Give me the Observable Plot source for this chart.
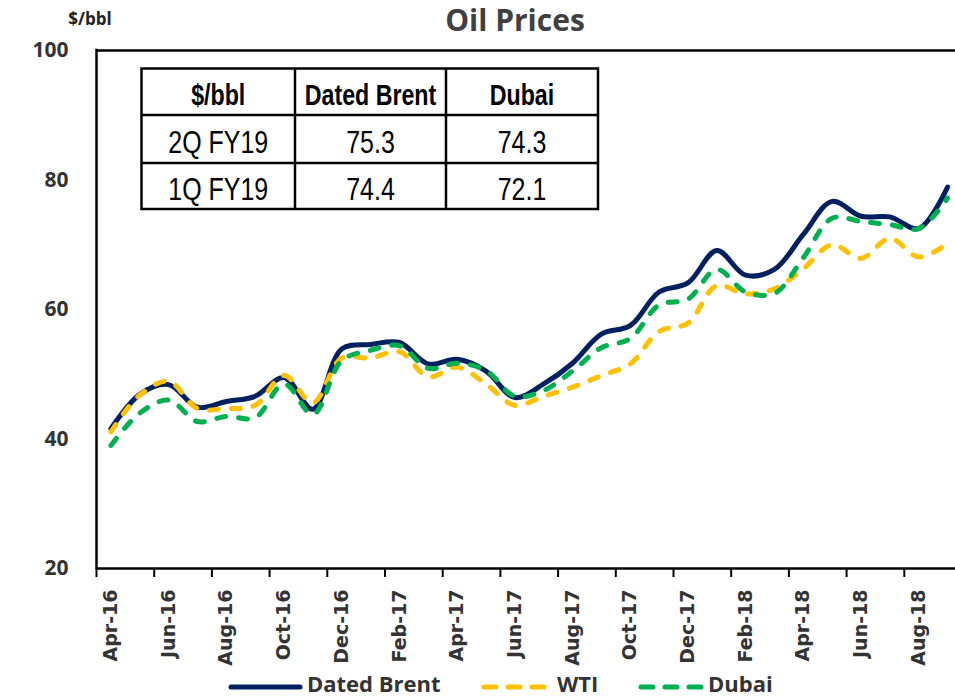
<!DOCTYPE html>
<html>
<head>
<meta charset="utf-8">
<script src="https://cdn.jsdelivr.net/npm/d3@7"></script>
<script src="https://cdn.jsdelivr.net/npm/@observablehq/plot@0.6"></script>
<style>
  body { margin: 0; background: #fff; }
  #chart svg { display: block; }
  #chart svg [aria-label="x-axis tick"] { stroke-width: 2; stroke: #000; }
  #chart svg g[aria-label="x-axis"] line { stroke-width: 2; stroke: #000; }
</style>
</head>
<body>
<div id="chart"></div>
<script>
// ---------- data ----------
const months = ["Apr-16","May-16","Jun-16","Jul-16","Aug-16","Sep-16","Oct-16","Nov-16","Dec-16",
  "Jan-17","Feb-17","Mar-17","Apr-17","May-17","Jun-17","Jul-17","Aug-17","Sep-17","Oct-17","Nov-17","Dec-17",
  "Jan-18","Feb-18","Mar-18","Apr-18","May-18","Jun-18","Jul-18","Aug-18","Sep-18"];
const datedBrent = [41.6,46.9,48.4,44.9,45.8,46.6,49.5,44.6,53.9,54.6,54.9,51.6,52.3,50.5,46.4,48.5,51.7,56.2,57.5,62.7,64.1,69.1,65.3,66.2,71.6,76.7,74.4,74.3,72.5,78.9];
const wti        = [41.1,46.8,48.9,44.7,44.7,45.2,49.8,45.6,52.5,52.5,53.5,49.6,51.1,48.5,45.2,46.6,48.0,49.8,51.6,56.6,57.9,63.7,62.4,63.2,66.3,70.0,67.9,71.0,68.1,70.2];
const dubai      = [39.0,44.0,46.0,42.7,43.5,43.3,48.5,43.8,52.1,53.7,54.4,50.9,51.7,50.6,46.6,47.5,50.5,54.1,55.5,60.7,61.6,66.2,62.7,62.5,68.0,74.1,73.6,73.1,72.5,77.2];
const seriesNames = ["Dated Brent", "WTI", "Dubai"];
const seriesValues = [datedBrent, wti, dubai];
const yTicks = [20, 40, 60, 80, 100];
const chartTitle = "Oil Prices";
const unitLabel = "$/bbl";
const tableHeader = ["$/bbl", "Dated Brent", "Dubai"];
const tableRows = [["2Q FY19", "75.3", "74.3"], ["1Q FY19", "74.4", "72.1"]];

// ---------- build ----------
const colors = {"Dated Brent": "#002060", "WTI": "#FFC000", "Dubai": "#00B050"};
const dashes = {"Dated Brent": null, "WTI": "9,13", "Dubai": "9,13"};
const rows = [];
seriesNames.forEach((s, k) => seriesValues[k].forEach((v, i) => rows.push({series: s, i, month: months[i], value: v})));
const labelIdx = months.map((m, i) => i).filter(i => i % 2 === 0);
const tickPos = labelIdx.map(i => i - 0.5);

const W = 955, H = 699;
const mLeft = 96, mTop = 50, plotBottom = 568;
const step = 28.85;

const lineMarks = seriesNames.map(s => Plot.line(rows, {
  filter: d => d.series === s,
  x: "i", y: "value",
  stroke: colors[s], strokeWidth: 5,
  strokeDasharray: dashes[s] || undefined,
  strokeLinecap: "round", strokeLinejoin: "round",
  curve: "catmull-rom"
}));

const svg = Plot.plot({
  width: W, height: H,
  marginLeft: mLeft, marginTop: mTop, marginBottom: H - plotBottom, marginRight: 0,
  style: {background: "#fff", overflow: "visible"},
  x: {domain: [-0.5, months.length - 0.5], range: [mLeft, mLeft + step * months.length],
      ticks: tickPos, tickSize: 9, tickFormat: () => "", label: null},
  y: {domain: [20, 100], axis: null},
  marks: [
    ...lineMarks,
    Plot.ruleY([100], {stroke: "#000", strokeWidth: 2.5}),
    Plot.ruleY([20], {stroke: "#000", strokeWidth: 2.5}),
    Plot.ruleX([-0.5], {stroke: "#000", strokeWidth: 2.5, strokeLinecap: "square"}),
    Plot.text(yTicks, {x: -0.5, y: d => d, text: d => String(d), textAnchor: "end", dx: -28,
      fontSize: 21, fontWeight: "bold", fontFamily: "Open Sans", fill: "#333"}),
    Plot.text(labelIdx, {x: d => d, y: 20, text: d => months[d], rotate: -90, textAnchor: "end",
      lineAnchor: "middle", dy: 21, fontSize: 19, fontWeight: "bold", fontFamily: "DejaVu Sans", fill: "#333"})
  ]
});
document.getElementById("chart").appendChild(svg);

// ---------- annotations: title, unit, table, legend ----------
const s = d3.select(svg);
s.append("text").attr("x", 515).attr("y", 31).attr("text-anchor", "middle")
  .attr("font-family", "Open Sans").attr("font-weight", "bold").attr("font-size", 30)
  .attr("fill", "#404040").text(chartTitle);
s.append("text").attr("x", 90).attr("y", 25).attr("text-anchor", "middle")
  .attr("font-family", "Open Sans").attr("font-weight", "bold").attr("font-size", 17)
  .attr("fill", "#222").text(unitLabel);

// table
const tx = [141.5, 295, 446, 598], ty = [68.5, 115, 163, 209];
const tg = s.append("g");
tg.append("rect").attr("x", tx[0]).attr("y", ty[0]).attr("width", tx[3] - tx[0]).attr("height", ty[3] - ty[0])
  .attr("fill", "#fff").attr("stroke", "#000").attr("stroke-width", 2.5);
[tx[1], tx[2]].forEach(x => tg.append("line").attr("x1", x).attr("x2", x).attr("y1", ty[0]).attr("y2", ty[3])
  .attr("stroke", "#000").attr("stroke-width", 2.5));
[ty[1], ty[2]].forEach(y => tg.append("line").attr("x1", tx[0]).attr("x2", tx[3]).attr("y1", y).attr("y2", y)
  .attr("stroke", "#000").attr("stroke-width", 2.5));
const cellRows = [tableHeader, ...tableRows];
const baselines = [105, 153, 200];
cellRows.forEach((r, ri) => r.forEach((t, ci) => {
  const cx = (tx[ci] + tx[ci + 1]) / 2;
  tg.append("text")
    .attr("transform", `translate(${cx},${baselines[ri]}) scale(${ri === 0 ? 0.8 : 0.78},1)`)
    .attr("text-anchor", "middle")
    .attr("font-family", "'Liberation Sans', Arial, sans-serif")
    .attr("font-weight", ri === 0 ? "bold" : "normal")
    .attr("font-size", ri === 0 ? 29 : 32)
    .attr("fill", "#000").text(t);
}));

// legend
const lg = s.append("g");
const legendItems = [
  {name: "Dated Brent", x0: 231, x1: 300, tx: 307},
  {name: "WTI", x0: 484, x1: 545, tx: 557},
  {name: "Dubai", x0: 641, x1: 702, tx: 708}
];
legendItems.forEach(it => {
  lg.append("line").attr("x1", it.x0).attr("x2", it.x1).attr("y1", 687).attr("y2", 687)
    .attr("stroke", colors[it.name]).attr("stroke-width", 5).attr("stroke-linecap", "round")
    .attr("stroke-dasharray", dashes[it.name] ? "12,12" : null);
  lg.append("text").attr("x", it.tx).attr("y", 692).attr("text-anchor", "start")
    .attr("font-family", "Open Sans").attr("font-weight", "bold").attr("font-size", 22)
    .attr("fill", "#333").text(it.name);
});
</script>
</body>
</html>
